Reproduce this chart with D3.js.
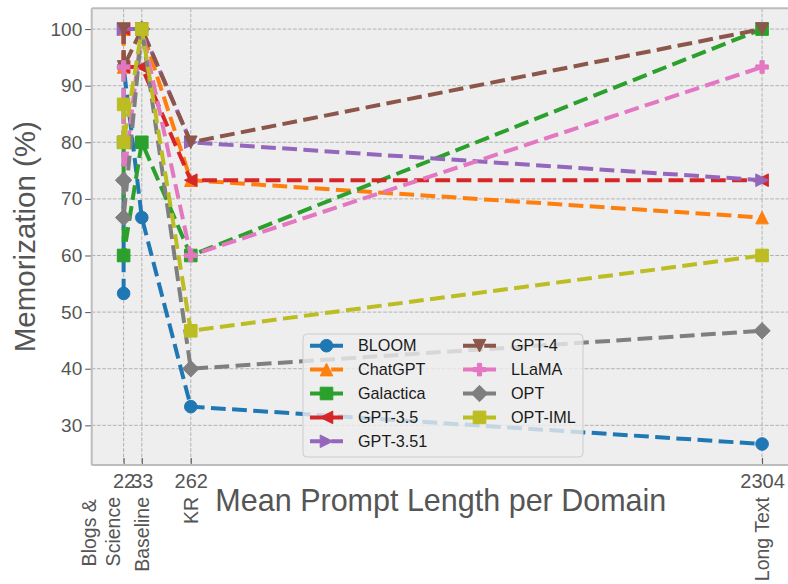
<!DOCTYPE html>
<html>
<head>
<meta charset="utf-8">
<script src="https://cdn.jsdelivr.net/npm/d3@7"></script>
<style>
  html, body { margin: 0; padding: 0; background: #ffffff; }
  svg { display: block; }
  text { font-family: "Liberation Sans", Arial, sans-serif; }
</style>
</head>
<body>
<svg id="chart" width="788" height="584"></svg>
<script>
// ---------------- data ----------------
const domains = ["Blogs", "Science", "Baseline", "KR", "Long Text"];
const promptLength = [22, 22, 87, 262, 2304];          // x positions on the axis
const xTickValues = [22, 87, 262, 2304];
const xTickLabels = ["22", "33", "262", "2304"];
const domainLabels = [["Blogs &", "Science"], ["Baseline"], ["KR"], ["Long Text"]];
const yTickValues = [30, 40, 50, 60, 70, 80, 90, 100];

const modelNames = ["BLOOM", "ChatGPT", "Galactica", "GPT-3.5", "GPT-3.51", "GPT-4", "LLaMA", "OPT", "OPT-IML"];
const bloom     = [53.3, 93.3, 66.7, 33.3, 26.7];
const chatgpt   = [93.3, 100, 100, 73.3, 66.7];
const galactica = [80, 60, 80, 60, 100];
const gpt35     = [100, 93.3, 93.3, 73.3, 73.3];
const gpt351    = [100, 100, 100, 80, 73.3];
const gpt4      = [100, 93.3, 100, 80, 100];
const llama     = [93.3, 73.3, 100, 60, 93.3];
const opt       = [73.3, 66.7, 100, 40, 46.7];
const optiml    = [86.7, 80, 100, 46.7, 60];
const seriesValues = [bloom, chatgpt, galactica, gpt35, gpt351, gpt4, llama, opt, optiml];

const colors  = ["#1f77b4", "#ff7f0e", "#2ca02c", "#d62728", "#9467bd", "#8c564b", "#e377c2", "#7f7f7f", "#bcbd22"];
const markers = ["o", "^", "s", "<", ">", "v", "P", "D", "s"];

// ---------------- layout ----------------
const svg = d3.select("#chart");
const L = 91.7, T = 8.3, R = 794, B = 465;
const textColor = "#555555";

const x = d3.scaleLinear().domain([-92.1, 2418.1]).range([L, R]);
const y = d3.scaleLinear().domain([22.99, 103.67]).range([B, T]);

// axes background
svg.append("rect").attr("x", L).attr("y", T).attr("width", R - L).attr("height", B - T).attr("fill", "#eeeeee");

// grid
const grid = svg.append("g");
grid.selectAll("line.h").data(yTickValues).join("line")
  .attr("x1", L).attr("x2", R).attr("y1", d => y(d)).attr("y2", d => y(d))
  .attr("stroke", "#b2b2b2").attr("stroke-width", 1).attr("stroke-dasharray", "3.7,1.6");
grid.selectAll("line.v").data(xTickValues).join("line")
  .attr("y1", T).attr("y2", B).attr("x1", d => x(d)).attr("x2", d => x(d))
  .attr("stroke", "#b2b2b2").attr("stroke-width", 1).attr("stroke-dasharray", "3.7,1.6");

// y axis
const yAxis = d3.axisLeft(y).tickValues(yTickValues).tickSize(6.5).tickPadding(3).tickFormat(d3.format("d"));
const gy = svg.append("g").attr("transform", `translate(${L},0)`).call(yAxis);
gy.select(".domain").remove();
gy.selectAll(".tick line").attr("stroke", textColor).attr("stroke-width", 1);
gy.selectAll(".tick text").attr("fill", textColor).attr("font-size", 19).attr("font-family", "Liberation Sans, Arial, sans-serif");

// x axis (ticks pointing inward)
const xAxis = d3.axisBottom(x).tickValues(xTickValues).tickSize(-7).tickPadding(0)
  .tickFormat((d, i) => xTickLabels[i]);
const gx = svg.append("g").attr("transform", `translate(0,${B})`).call(xAxis);
gx.select(".domain").remove();
gx.selectAll(".tick line").attr("stroke", textColor).attr("stroke-width", 1);
gx.selectAll(".tick text").attr("fill", textColor).attr("font-size", 20)
  .attr("font-family", "Liberation Sans, Arial, sans-serif").attr("dy", null).attr("y", 23);

// spines
const spine = svg.append("g").attr("stroke", "#bcbcbc").attr("stroke-width", 2).attr("fill", "none");
spine.append("line").attr("x1", L).attr("x2", L).attr("y1", T).attr("y2", B);
spine.append("line").attr("x1", L).attr("x2", R).attr("y1", T).attr("y2", T);
spine.append("line").attr("x1", L).attr("x2", R).attr("y1", B).attr("y2", B);

// marker paths
function markerPath(type, s) {
  const h = s / 2;
  switch (type) {
    case "o": { const p = d3.path(); p.arc(0, 0, h, 0, 2 * Math.PI); p.closePath(); return p.toString(); }
    case "s": return `M${-h},${-h}L${h},${-h}L${h},${h}L${-h},${h}Z`;
    case "^": return `M0,${-h}L${h},${h}L${-h},${h}Z`;
    case "v": return `M0,${h}L${h},${-h}L${-h},${-h}Z`;
    case "<": return `M${-h},0L${h},${-h}L${h},${h}Z`;
    case ">": return `M${h},0L${-h},${-h}L${-h},${h}Z`;
    case "D": { const d = h * 1.3; return `M0,${-d}L${d},0L0,${d}L${-d},0Z`; }
    case "P": { const a = h, b = h / 3; return `M${-b},${-a}L${b},${-a}L${b},${-b}L${a},${-b}L${a},${b}L${b},${b}L${b},${a}L${-b},${a}L${-b},${b}L${-a},${b}L${-a},${-b}L${-b},${-b}Z`; }
  }
}
const markerSize = 12.6;
const lineWidth = 4;
const dash = "14.8,6.4";

// series
const line = d3.line().x((d, i) => x(promptLength[i])).y(d => y(d));
const plot = svg.append("g");
seriesValues.forEach((vals, k) => {
  const g = plot.append("g");
  g.append("path").datum(vals).attr("d", line)
    .attr("fill", "none").attr("stroke", colors[k]).attr("stroke-width", lineWidth)
    .attr("stroke-dasharray", dash);
  g.selectAll("path.m").data(vals).join("path").attr("class", "m")
    .attr("transform", (d, i) => `translate(${x(promptLength[i])},${y(d)})`)
    .attr("d", markerPath(markers[k], markerSize))
    .attr("fill", colors[k]).attr("stroke", colors[k]).attr("stroke-width", 1);
});

// legend
const lg = svg.append("g");
lg.append("rect").attr("x", 303).attr("y", 334).attr("width", 280).attr("height", 123)
  .attr("rx", 4).attr("fill", "#eeeeee").attr("fill-opacity", 0.8).attr("stroke", "#cccccc").attr("stroke-width", 1);
modelNames.forEach((name, k) => {
  const col = k < 5 ? 0 : 1;
  const row = k < 5 ? k : k - 5;
  const hx = col === 0 ? 310 : 463;
  const cy = 345.7 + row * 23.9;
  lg.append("line").attr("x1", hx).attr("x2", hx + 33).attr("y1", cy).attr("y2", cy)
    .attr("stroke", colors[k]).attr("stroke-width", lineWidth).attr("stroke-dasharray", dash);
  lg.append("path").attr("transform", `translate(${hx + 16.5},${cy})`)
    .attr("d", markerPath(markers[k], markerSize)).attr("fill", colors[k]).attr("stroke", colors[k]).attr("stroke-width", 1);
  lg.append("text").attr("x", hx + 48).attr("y", cy).attr("dy", "0.35em")
    .attr("font-size", 16.2).attr("fill", "#1a1a1a").text(name);
});

// domain labels (rotated) under the axis
const labelTop = 497;
const lblG = svg.append("g");
domainLabels.forEach((lines, i) => {
  const cx = x(xTickValues[i]) + (lines.length > 1 ? -23 : 0);
  const n = lines.length;
  const texts = lines.map((t, j) => {
    const lx = cx + (j - (n - 1) / 2) * 24;
    return lblG.append("text")
      .attr("transform", `translate(${lx},0) rotate(-90)`)
      .attr("dy", "0.36em").attr("font-size", 19.5).attr("fill", textColor).text(t);
  });
  const widths = texts.map(t => t.node().getComputedTextLength());
  const maxW = d3.max(widths);
  texts.forEach(t => t.attr("x", -(labelTop + maxW)).attr("text-anchor", "start"));
});

// axis titles
svg.append("text").attr("x", (L + R) / 2 - 2).attr("y", 511).attr("text-anchor", "middle")
  .attr("font-size", 30.5).attr("fill", textColor).text("Mean Prompt Length per Domain");
svg.append("text").attr("transform", `translate(35,${(T + B) / 2}) rotate(-90)`).attr("text-anchor", "middle")
  .attr("font-size", 29.5).attr("fill", textColor).text("Memorization (%)");
</script>
</body>
</html>
